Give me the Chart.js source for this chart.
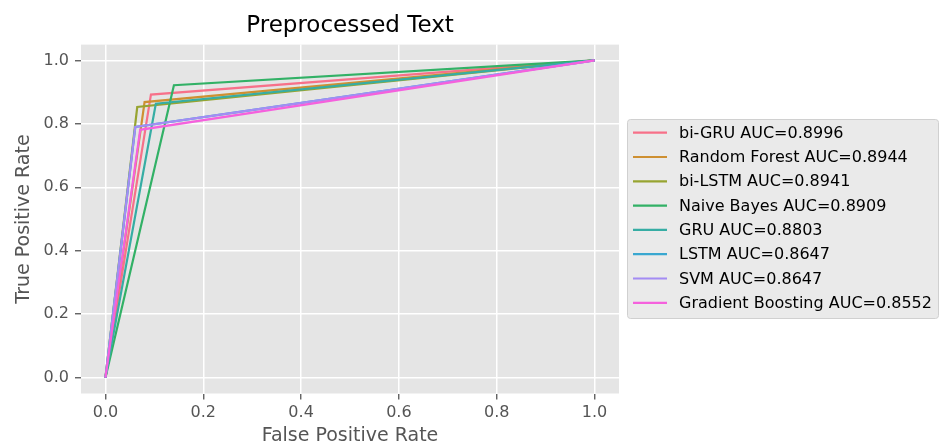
<!DOCTYPE html>
<html>
<head>
<meta charset="utf-8">
<script src="https://cdn.jsdelivr.net/npm/chart.js@4/dist/chart.umd.min.js"></script>
<style>
  html, body { margin: 0; padding: 0; background: #ffffff; }
  #wrap { width: 939px; height: 444px; }
</style>
</head>
<body>
<div id="wrap"><canvas id="roc" width="939" height="444"></canvas></div>
<script>
// ROC curves: each model has a single operating point between (0,0) and (1,1)
const models = ['bi-GRU', 'Random Forest', 'bi-LSTM', 'Naive Bayes', 'GRU', 'LSTM', 'SVM', 'Gradient Boosting'];
const aucValues = [0.8996, 0.8944, 0.8941, 0.8909, 0.8803, 0.8647, 0.8647, 0.8552];
const cornerFpr = [0.093, 0.080, 0.065, 0.140, 0.103, 0.061, 0.061, 0.071];
const cornerTpr = [0.8922, 0.8688, 0.8532, 0.9218, 0.8636, 0.7904, 0.7904, 0.7814];
const colors = ['#f77189', '#ce9032', '#97a431', '#32b166', '#36ada4', '#39a7d0', '#a48cf4', '#f561dd'];
const tickValues = [0, 0.2, 0.4, 0.6, 0.8, 1.0];

const FONT = "'DejaVu Sans', 'Liberation Sans', sans-serif";

const datasets = models.map((m, i) => ({
  label: m + ' AUC=' + aucValues[i].toFixed(4),
  data: [{x: 0, y: 0}, {x: cornerFpr[i], y: cornerTpr[i]}, {x: 1, y: 1}],
  borderColor: colors[i],
  backgroundColor: colors[i],
  borderWidth: 2.2,
  pointRadius: 0,
  showLine: true,
  fill: false,
  tension: 0,
  order: models.length - 1 - i
}));

// grey panel behind the plotting area
const panelBg = {
  id: 'panelBg',
  beforeDraw(chart) {
    const {ctx, chartArea: a} = chart;
    ctx.save();
    ctx.fillStyle = '#e5e5e5';
    ctx.fillRect(a.left, a.top, a.right - a.left, a.bottom - a.top);
    ctx.restore();
  }
};

// boxed legend to the right of the axes
const sideLegend = {
  id: 'sideLegend',
  afterDraw(chart) {
    const {ctx} = chart;
    const x0 = 627.5, y0 = 119.5, w = 311, h = 199;
    ctx.save();
    ctx.beginPath();
    ctx.roundRect(x0, y0, w, h, 3);
    ctx.fillStyle = 'rgba(229,229,229,0.8)';
    ctx.fill();
    ctx.strokeStyle = '#d0d0d0';
    ctx.lineWidth = 1;
    ctx.stroke();
    ctx.font = '16px ' + FONT;
    ctx.textBaseline = 'middle';
    ctx.fillStyle = '#000000';
    chart.data.datasets.forEach((ds, i) => {
      const y = 132.7 + i * 24.3;
      ctx.strokeStyle = ds.borderColor;
      ctx.lineWidth = 2.2;
      ctx.beginPath();
      ctx.moveTo(633, y);
      ctx.lineTo(667, y);
      ctx.stroke();
      ctx.fillText(ds.label, 679, y + 1);
    });
    ctx.restore();
  }
};

new Chart(document.getElementById('roc'), {
  type: 'scatter',
  data: { datasets },
  options: {
    responsive: false,
    animation: false,
    layout: { padding: { left: 0, right: 320, top: 0, bottom: 0 } },
    plugins: {
      legend: { display: false },
      tooltip: { enabled: false },
      title: {
        display: true,
        fullSize: false,
        text: 'Preprocessed Text',
        color: '#000000',
        font: { family: FONT, size: 23, weight: 'normal' },
        padding: { top: 12, bottom: 5 }
      }
    },
    scales: {
      x: {
        type: 'linear',
        min: -0.05,
        max: 1.05,
        afterFit(scale) { scale.height = 50.5; },
        afterBuildTicks(scale) { scale.ticks = tickValues.map(v => ({value: v})); },
        ticks: {
          color: '#555555',
          font: { family: FONT, size: 16 },
          padding: 4,
          callback: v => v.toFixed(1)
        },
        grid: { color: '#ffffff', lineWidth: 1.5, tickColor: '#555555', tickLength: 6, tickWidth: 1.3 },
        border: { display: false },
        title: {
          display: true,
          text: 'False Positive Rate',
          color: '#555555',
          font: { family: FONT, size: 19 },
          padding: { top: 0, bottom: -3 }
        }
      },
      y: {
        type: 'linear',
        min: -0.05,
        max: 1.05,
        afterFit(scale) { scale.width = 81; },
        afterBuildTicks(scale) { scale.ticks = tickValues.map(v => ({value: v})); },
        ticks: {
          color: '#555555',
          font: { family: FONT, size: 16 },
          padding: 6,
          callback: v => v.toFixed(1)
        },
        grid: { color: '#ffffff', lineWidth: 1.5, tickColor: '#555555', tickLength: 6, tickWidth: 1.3 },
        border: { display: false },
        title: {
          display: true,
          text: 'True Positive Rate',
          color: '#555555',
          font: { family: FONT, size: 19 },
          padding: { top: 13, bottom: 0 }
        }
      }
    }
  },
  plugins: [panelBg, sideLegend]
});
</script>
</body>
</html>
